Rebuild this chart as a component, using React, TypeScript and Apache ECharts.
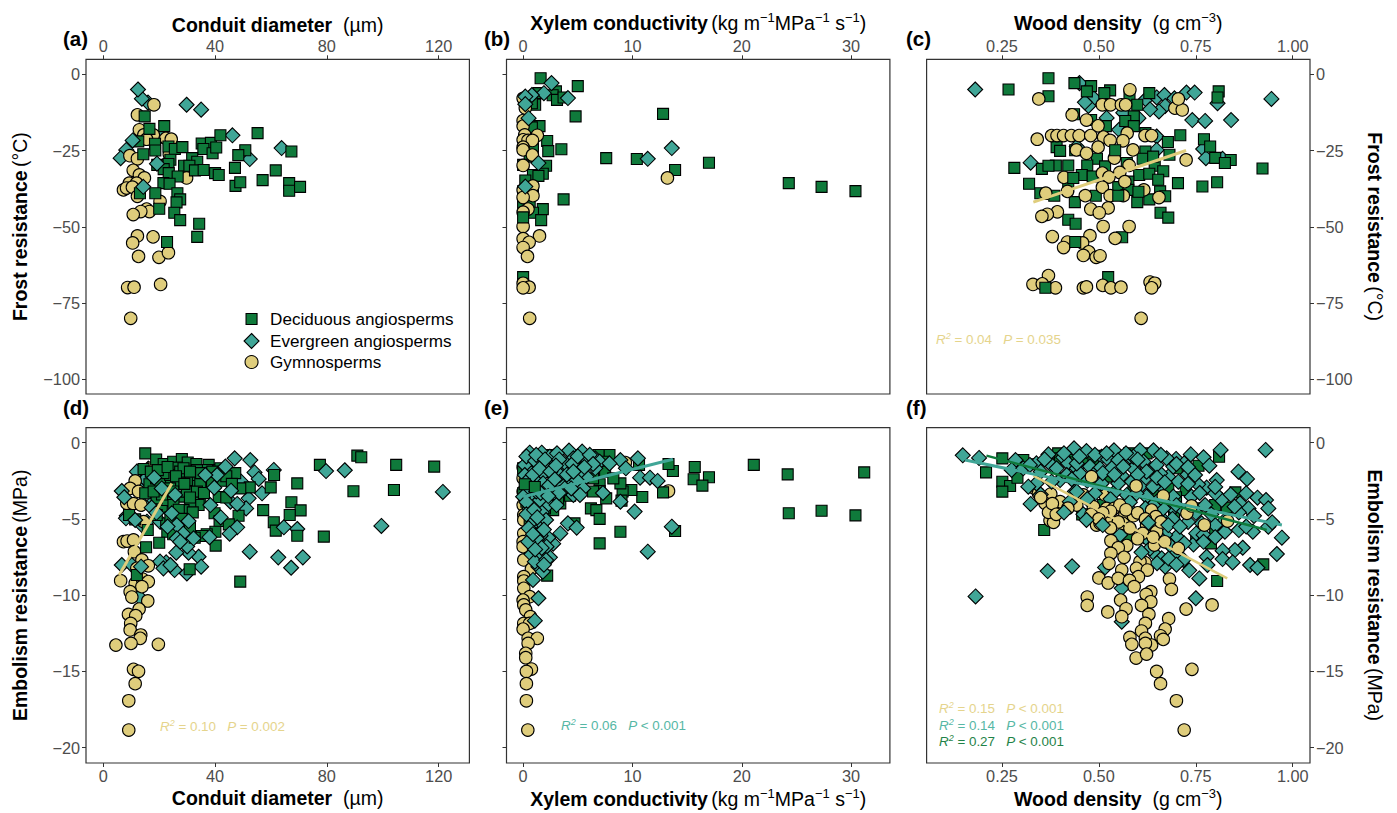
import React, { useEffect, useRef } from "react";
import * as echarts from "echarts";

type P = [number, number];

const xTicksDiameter = [0, 40, 80, 120];
const xTicksConductivity = [0, 10, 20, 30];
const xTicksDensity = [0.25, 0.5, 0.75, 1.0];
const yTicksFrost = [0, -25, -50, -75, -100];
const yTicksEmbolism = [0, -5, -10, -15, -20];

const NAME_D = "Deciduous angiosperms";
const NAME_E = "Evergreen angiosperms";
const NAME_G = "Gymnosperms";

// Panel (a)
const deciduousA: P[] = [[14.8,-13.8],[21.8,-17],[16.5,-17.9],[12.5,-22],[18.5,-22.8],[18.6,-25],[14.3,-26.2],[23.3,-23.7],[25.6,-24.5],[28.3,-23.9],[35.2,-22.7],[38.5,-22.5],[41.9,-20],[55.2,-19.3],[35.8,-24.5],[39.1,-25.9],[40.4,-24],[50.8,-24.9],[48.3,-26.5],[67.3,-25.3],[24,-28],[23.3,-29.4],[19.3,-29.7],[31.8,-27.5],[33.6,-28.7],[28.9,-30],[30.8,-30],[32.8,-31.5],[35.9,-31.4],[21.6,-31.1],[23.4,-32.4],[26.6,-33.5],[40,-32.4],[41.3,-33],[47.1,-30.7],[61.7,-31.5],[57,-34.7],[47.3,-36.6],[49,-35.4],[66.5,-35.7],[66.5,-38.2],[70.4,-36.9],[21.5,-35.7],[23.7,-35.9],[18.6,-39],[13.1,-39],[26.5,-39],[27.5,-41],[26.2,-42],[20,-44.1],[25.4,-45.4],[27.5,-47.8],[34.3,-49],[33.6,-53.3],[22.8,-55]];
const evergreenA: P[] = [[16,-9.3],[13.8,-8],[12.4,-5],[29.8,-10],[35,-11.6],[46.2,-20],[63.8,-24.2],[52.4,-27.8],[8.2,-24.8],[6.2,-27.5],[20.5,-20.4]];
const evergreenATop: P[] = [[10.5,-21.7],[19.2,-29.3],[14.3,-36.9]];
const gymnoA: P[] = [[18.1,-10],[12.2,-13.3],[12.9,-18.2],[14.5,-19.9],[17.9,-19.9],[15.5,-21.3],[22.4,-21],[24.3,-21.3],[23.6,-26.2],[9.5,-26.7],[12.2,-27.7],[10.7,-31.5],[12.9,-33],[14.7,-34],[29.8,-34],[9.3,-35.7],[11.9,-35.7],[7.2,-37.9],[8.3,-37.3],[10.4,-37],[12.2,-40],[20.3,-41.7],[15.5,-44.2],[16.5,-45],[13.4,-45],[10.7,-46],[12.2,-53],[17.8,-53.3],[10.5,-55.3],[12.6,-59.7],[19.9,-60],[23.3,-58.5],[20.5,-68.9],[8.7,-69.9],[11,-69.8],[9.8,-80]];

// Panel (b)
const deciduousB: P[] = [[1.6,-1.3],[5,-3.9],[3,-5.6],[1.4,-6.2],[2.7,-6.9],[3.1,-8.4],[3.7,-7.6],[1.1,-10],[0.8,-9.5],[4.8,-13.8],[12.8,-13],[1.5,-17],[0.8,-17.4],[2.2,-21.9],[2.3,-25.2],[3.5,-24.6],[0.9,-24.2],[0.6,-27],[7.6,-27.5],[10.4,-27.8],[17,-29],[2.1,-30],[0,-29.7],[13.9,-31.4],[0.9,-33],[1.8,-32.6],[1.4,-33.3],[0.2,-34.8],[24.3,-35.7],[27.3,-36.9],[30.4,-38.3],[0.9,-37.9],[0,-38.4],[3.7,-41],[0,-42.2],[0.6,-42.8],[1.8,-44.2],[0.9,-45.4],[1.65,-47.8],[0,-66.5],[0,-69]];
const deciduousBTop: P[] = [[0,-46.9]];
const evergreenB: P[] = [[2.6,-2.9],[4.1,-7.8],[1.9,-6.2],[0.8,-6.8],[0.2,-7.3],[0.2,-9.8],[0.5,-14.4],[13.6,-24.2],[11.4,-27.7],[1.4,-29.1],[0.2,-36.8]];
const gymnoB: P[] = [[0,-7.9],[0.2,-11.1],[0,-15.2],[0,-17],[0.15,-19.9],[1.3,-20],[0,-21.5],[0.45,-21.7],[0.85,-21.7],[0,-23.9],[0,-24.8],[0.85,-26.5],[0,-29.9],[13.2,-34],[0.9,-36.6],[0,-37.9],[0.9,-39.8],[0,-40.4],[0.45,-44.2],[0,-45.2],[0,-49.9],[1.5,-53],[0,-53.9],[0.55,-55.1],[0,-56.8],[0.4,-59.7],[0,-68.5],[0.55,-69.8],[0,-70],[0.6,-80]];

// Panel (c)
const deciduousC: P[] = [[0.267,-5],[0.37,-1.3],[0.37,-7.2],[0.437,-2.9],[0.48,-3.9],[0.469,-5.6],[0.529,-5.3],[0.514,-6.2],[0.579,-6.8],[0.63,-6.2],[0.599,-10],[0.809,-5.6],[0.806,-7.6],[0.48,-15],[0.436,-13.1],[0.59,-13.8],[0.568,-15.3],[0.59,-17],[0.518,-17],[0.62,-19.3],[0.71,-20],[0.678,-22.2],[0.771,-21.3],[0.787,-23.7],[0.391,-23.9],[0.4,-25.1],[0.439,-24.9],[0.62,-25.3],[0.682,-26.4],[0.495,-27.7],[0.613,-27.7],[0.8,-27.4],[0.84,-28.1],[0.825,-29.1],[0.282,-30.7],[0.353,-31],[0.389,-29.9],[0.47,-29.9],[0.644,-30],[0.666,-31.8],[0.922,-30.9],[0.456,-33],[0.484,-33.5],[0.604,-33],[0.63,-32.6],[0.653,-34.6],[0.32,-35.9],[0.704,-35.7],[0.767,-36.8],[0.805,-35.4],[0.349,-39],[0.385,-39.8],[0.421,-36.8],[0.492,-39.8],[0.55,-37],[0.599,-41.9],[0.63,-41],[0.658,-38.4],[0.671,-40],[0.438,-41.9],[0.659,-45.4],[0.679,-47],[0.421,-47.7],[0.44,-49],[0.56,-53.4],[0.524,-66.5],[0.572,-29.1],[0.516,-30.2],[0.576,-35.2],[0.576,-37.9],[0.64,-27]];
const evergreenC: P[] = [[0.181,-5],[0.45,-2.9],[0.487,-7.9],[0.473,-10.4],[0.464,-9.2],[0.563,-12.6],[0.52,-14.3],[0.552,-18.2],[0.621,-8.2],[0.649,-7.6],[0.669,-6.8],[0.695,-7.9],[0.726,-6],[0.747,-6],[0.671,-10.4],[0.655,-12.2],[0.632,-11.5],[0.806,-9.5],[0.945,-8.1],[0.741,-15],[0.774,-15.3],[0.841,-15],[0.649,-20.4],[0.769,-24.5],[0.649,-24.8],[0.776,-27.5],[0.819,-27.7],[0.324,-29],[0.602,-14.4],[0.443,-23.7]];
const gymnoC: P[] = [[0.58,-5.1],[0.345,-8.1],[0.509,-10],[0.53,-10],[0.558,-10],[0.569,-10],[0.696,-11.1],[0.715,-11.7],[0.705,-8.1],[0.431,-13.3],[0.468,-15],[0.498,-16.9],[0.341,-21.3],[0.378,-20.1],[0.392,-20.1],[0.409,-20.1],[0.429,-20.1],[0.449,-20.1],[0.479,-20.1],[0.512,-20.6],[0.529,-21.7],[0.573,-19.3],[0.562,-21.8],[0.619,-20.1],[0.636,-20.1],[0.498,-23.9],[0.442,-24.8],[0.468,-25.9],[0.588,-24.8],[0.54,-27.5],[0.725,-28.1],[0.578,-29.9],[0.509,-32.4],[0.554,-32.2],[0.526,-33.7],[0.41,-33.8],[0.363,-39],[0.419,-38.4],[0.509,-37],[0.616,-37.9],[0.567,-35.2],[0.465,-39.8],[0.529,-39.8],[0.563,-39.8],[0.655,-40.4],[0.524,-43.8],[0.479,-44.2],[0.501,-45.4],[0.393,-45.1],[0.367,-45.9],[0.353,-46.6],[0.511,-49.9],[0.578,-49.9],[0.38,-53.2],[0.477,-52.9],[0.542,-53.8],[0.419,-55],[0.458,-55.3],[0.409,-56.8],[0.474,-58.2],[0.46,-59.4],[0.493,-60],[0.503,-59.5],[0.37,-66],[0.33,-68.9],[0.354,-68.7],[0.388,-70],[0.46,-70],[0.468,-69.7],[0.51,-69.2],[0.531,-70],[0.557,-69.8],[0.632,-68.1],[0.644,-68.5],[0.636,-70],[0.609,-80]];
const deciduousCTop: P[] = [[0.434,-34],[0.55,-39.8],[0.602,-38.5],[0.439,-55],[0.362,-70],[0.542,-24.9],[0.37,-30],[0.421,-29.9]];
const fitGymnoC: P[] = [[0.331,-41.9],[0.725,-25]];

// Panel (d)
const deciduousD: P[] = [[15,-0.7],[18.9,-1.1],[21.6,-1.4],[25,-1.25],[28.1,-1.07],[30.2,-1.3],[33.3,-1.4],[37.7,-1.46],[26.3,-1.64],[14.4,-1.73],[22.7,-2.34],[26.7,-2.56],[16.5,-2.73],[32,-2.82],[35.9,-3],[42.5,-2.5],[47.2,-2],[52.4,-2.93],[59.9,-2.93],[61.1,-2.12],[69.4,-2.67],[77.5,-1.46],[90.9,-0.85],[92.3,-0.96],[104.8,-1.46],[118.4,-1.57],[89.5,-3.19],[104,-3.1],[15,-3.32],[41.3,-3.56],[34.7,-3.87],[34.1,-4.09],[31.1,-4.09],[28.7,-4.42],[32,-4.57],[24.5,-3.83],[20.9,-4.3],[39.8,-4.63],[48.4,-4.79],[57.2,-4.42],[67.3,-3.91],[70.6,-4.44],[66.7,-4.74],[61,-5.22],[61.7,-5.77],[69.4,-6.1],[78.9,-6.16],[41.6,-5.14],[22.5,-5.3],[22.9,-5.84],[15.9,-5.73],[40.1,-5.84],[37,-6],[35.3,-6.12],[32.7,-6.23],[44.9,-5.36],[20,-6.56],[15.3,-6.86],[40.2,-6.75],[30.9,-8.3],[49,-9.11],[11.4,-5.03],[9.2,-4.74],[12,-8.68],[32.3,-2.12],[41.3,-1.79],[27.5,-3.54],[18.9,-2.34],[22.7,-3.76],[29.9,-2.45],[34.7,-2.67],[49,-3],[20.3,-2.56],[23.9,-2.12],[27.5,-1.9],[29.9,-3.21],[33.5,-3.21],[19.1,-3.65],[21.5,-2],[37.1,-1.79],[38.9,-2.56],[23.9,-3],[28.7,-1.68],[33.5,-1.8],[41.9,-1.68],[27.5,-5.4],[25.1,-4.09],[19.1,-4.74],[17,-1.9],[19.5,-1.8],[23,-1.6],[26,-2.2],[31,-1.9],[35,-2],[39,-1.9],[44,-2.2],[29,-2.7],[25,-3.2],[21,-3.4],[36,-3.3],[31,-3.6],[27,-4.4],[24,-4.9],[28,-5],[31,-5.6],[25,-6],[18,-3.2],[44,-3.6],[46,-2.7]];
const evergreenD: P[] = [[54.1,-1.95],[55.6,-2.38],[61,-1.79],[86.4,-1.81],[121.5,-3.23],[56.8,-3.32],[52,-3.65],[49.3,-2.56],[45.5,-3.87],[51.1,-4.31],[99.5,-5.46],[69.4,-5.66],[13.8,-5.4],[8.4,-4.79],[52.4,-7.15],[62.6,-7.52],[67.2,-8.2],[71.4,-7.52],[34.1,-7.48],[35,-8.13],[30.5,-7.21],[26.1,-7.21],[25.5,-8.35],[22.5,-7.85],[20.3,-7.8],[29.9,-8.57],[6.6,-8.02],[10.2,-8.02],[12.9,-10.12],[12,-1.9],[16.1,-1.7],[13,-3],[15.6,-5.18],[20.3,-5.18],[17.9,-3.87],[8.1,-4.96],[21.5,-8.24],[24,-8.02],[15,-2.4],[30,-6.8],[14,-4]];
const evergreenDTop: P[] = [[47,-1.03],[52.6,-1.14],[43.7,-1.57],[79.7,-1.86],[40.7,-2.12],[36.5,-2.12],[39.7,-2.95],[45.7,-3.15],[47.9,-4.02],[64.6,-5.55],[47.9,-5.55],[45.2,-5.97],[30.5,-5.14],[28.5,-5.95],[20.9,-3],[18.2,-2.3],[25.7,-3.43],[6.6,-3.17],[7.5,-3.58],[11.4,-5.07],[13.5,-8.13],[24.5,-4.63],[26.3,-5.4],[17.3,-4.26],[19,-4.6],[23,-5.5],[38.3,-4.09],[42,-4.9],[26.3,-6.27],[27.5,-6.49],[32.3,-6.27],[38,-6.2]];
const gymnoD: P[] = [[16.7,-1.68],[11.4,-2.51],[9.6,-3],[12.6,-3.2],[8.4,-3.98],[10.8,-4],[13.5,-4.09],[14.4,-5.18],[7.2,-6.49],[8.5,-6.45],[10.8,-6.38],[11.1,-7.15],[13.8,-7.69],[16.1,-8.07],[12,-8.24],[6.2,-9.05],[11.4,-9.22],[14,-8.94],[16.1,-9.11],[13.8,-9.44],[9.6,-9.77],[10.2,-10.12],[15.9,-10.38],[12.8,-10.91],[9,-11.26],[11.6,-11.34],[9.8,-11.85],[9.6,-12.28],[13.4,-12.61],[13.2,-12.83],[4.5,-13.27],[9.9,-13.16],[19.7,-13.22],[10.8,-14.86],[12.6,-14.99],[11.4,-15.8],[9.1,-16.92],[9.1,-18.84]];
const fitGymnoD: P[] = [[5.7,-8.68],[24.5,-2.67]];

// Panel (e)
const deciduousE: P[] = [[21.1,-1.46],[24.2,-2.08],[31.2,-1.95],[24.3,-4.63],[27.3,-4.46],[30.4,-4.77],[15.7,-1.6],[17,-2.27],[15.6,-2.4],[16.4,-2.82],[13.7,-1.86],[13.3,-1.4],[12.8,-3.26],[10.9,-3.56],[9.9,-3.1],[9.1,-3.2],[8.9,-2.67],[9,-3.8],[10.6,-1.46],[7.9,-0.81],[6.9,-0.81],[7.3,-1.25],[7.5,-1.9],[7,-2.73],[7,-3.17],[7.6,-3.65],[6.2,-4.31],[6.7,-4.42],[7,-5],[4.7,-5.29],[8.9,-5.84],[7,-6.6],[13.9,-5.79],[2.2,-8.72],[2.6,-0.81],[1.5,-0.92],[4,-1.68],[3.4,-3.98],[2.75,-4.42],[4.3,-3.48],[1.8,-6.93],[1.7,-2.78],[5.2,-2.56],[6.4,-3.2],[2,-1.68],[5.5,-1.14],[0.9,-1.57],[0,-1.68],[0,-3.32],[8.25,-2.34],[4.1,-2.78],[2,-4.31],[3.2,-3.65],[5.5,-1.68],[6.4,-2.34],[0.9,-6.93],[0.3,-3.87],[0.6,-5.4]];
const deciduousETop: P[] = [[0.15,-2.73],[1.07,-2.91]];
const evergreenE: P[] = [[0.6,-0.66],[1.7,-0.66],[2.75,-0.92],[4.2,-0.52],[5.4,-0.59],[5.9,-1.18],[6.6,-1.03],[0.67,-1.14],[2.3,-1.42],[3.7,-1.25],[4.9,-1.57],[2.75,-2.16],[1.7,-2.12],[0.6,-1.9],[4.3,-2.56],[5.8,-2.23],[10.5,-1.03],[8.9,-1.14],[9.4,-1.68],[10.7,-2.3],[11.6,-2.3],[12.3,-2.51],[5.5,-3],[4.6,-3.43],[2.3,-4.04],[1.7,-4.57],[0.6,-4.31],[1.6,-5.4],[2.1,-5.07],[0.67,-5.51],[10.2,-4.52],[13.6,-5.51],[4.1,-5.29],[4.9,-5.57],[3.4,-5.95],[2.75,-6.62],[2.3,-6.23],[1.6,-6.1],[11.4,-7.15],[0.76,-7.32],[1.5,-7.26],[2.45,-7.52],[1.4,-8.13],[1.8,-8.46],[0.9,-9],[1.4,-10.2],[1.07,-11.67],[3.36,-1.68],[7,-1.25],[5.2,-1.9],[1.2,-2.56],[8.9,-3.87],[3.36,-2.67],[0.15,-1.46],[7.3,-3.3],[0.15,-2.12],[0.46,-3],[0.92,-3.54],[2,-3.21],[2.9,-3.32],[3.8,-3],[4.9,-2.45],[6.6,-1.68],[7.9,-1.36],[1.07,-2.45],[1.83,-2.67],[0,-3.54],[2.44,-0.92],[4.6,-1.03],[3.36,-2.12],[4,-1.46],[1.53,-3.76],[3.06,-4.09],[0.92,-5.07],[1.22,-6.27],[0.46,-6.49],[2.14,-6.82],[1.07,-7.8],[5.2,-3.43],[0.3,-0.9],[1.1,-1.2],[1.2,-0.8],[2,-1.1],[3.1,-0.7],[3.3,-1.1],[4.5,-1.4],[5,-0.9],[6.1,-0.8],[6.4,-1.4],[0.4,-2.5],[0.9,-2.1],[1.5,-1.7],[2.5,-1.9],[3,-1.5],[4,-2.1],[4.6,-1.9],[5.6,-1.6],[0.3,-3.9],[1.2,-3.2],[1.6,-3.3],[2.4,-2.8],[2.9,-2.4],[3.3,-3.3],[4.4,-3],[0.3,-4.7],[1,-4.4],[1.3,-4.9],[2.3,-3.5],[0.5,-5.6],[1.9,-5.7],[0.9,-6],[1.7,-6.9],[2.1,-7.7],[1.1,-7],[1.9,-8]];
const gymnoE: P[] = [[9.35,-1.31],[13.3,-3.17],[0,-1.62],[0,-2.34],[0,-3.21],[0,-4.09],[0.06,-4.74],[0.06,-5.07],[0.06,-5.95],[0,-6.49],[0,-6.82],[0.06,-7.69],[0.76,-8.28],[0.06,-8.79],[0.06,-9.07],[0.06,-9.55],[0.6,-10.1],[0,-10.32],[0.06,-10.64],[0.24,-10.97],[0.67,-11.41],[0.06,-11.85],[0.6,-11.85],[0,-12.22],[0.46,-12.83],[1.3,-12.83],[0.46,-13.16],[0.24,-13.81],[0.24,-14.1],[0.76,-14.84],[0.3,-15],[0.3,-15.8],[0.3,-16.92],[0.43,-18.84]];
const fitEvergreenE: P[] = [[0,-3.55],[13.7,-1.09]];

// Panel (f)
const deciduousF: P[] = [[0.251,-1.03],[0.209,-1.95],[0.251,-2.56],[0.271,-2.84],[0.251,-3.21],[0.29,-2.3],[0.305,-1.14],[0.335,-1.42],[0.359,-5.73],[0.395,-0.7],[0.425,-1.14],[0.46,-1.03],[0.509,-0.87],[0.578,-0.7],[0.623,-0.7],[0.757,-1.51],[0.81,-0.92],[0.52,-2.23],[0.462,-2.38],[0.724,-3.1],[0.699,-3.58],[0.852,-3.26],[0.8,-4.09],[0.83,-4.26],[0.694,-4.63],[0.8,-5.84],[0.789,-6.6],[0.751,-6.27],[0.924,-7.98],[0.805,-9.07],[0.457,-4.7],[0.572,-6.05],[0.679,-3],[0.511,-4.09],[0.628,-6.27],[0.701,-1.68],[0.597,-2.12],[0.4,-1.03],[0.486,-1.25],[0.589,-3.21],[0.64,-3.21],[0.752,-4.31],[0.572,-4.09],[0.64,-4.96]];
const evergreenF: P[] = [[0.149,-0.83],[0.191,-1],[0.285,-1.14],[0.182,-10.08],[0.368,-8.42],[0.431,-8.11],[0.814,-0.48],[0.93,-0.48],[0.86,-1.9],[0.882,-2.38],[0.804,-2.45],[0.778,-2.95],[0.756,-2.73],[0.729,-2.08],[0.77,-0.96],[0.785,-1.51],[0.737,-0.77],[0.699,-1.07],[0.675,-1.03],[0.72,-1.36],[0.641,-0.5],[0.606,-0.5],[0.58,-0.92],[0.539,-0.5],[0.507,-0.92],[0.468,-0.55],[0.436,-0.37],[0.408,-0.96],[0.37,-0.77],[0.379,-1.51],[0.477,-1.57],[0.524,-1.09],[0.55,-1.14],[0.589,-1.68],[0.619,-2.34],[0.641,-1.68],[0.679,-2.23],[0.559,-2.16],[0.507,-2.67],[0.49,-3.32],[0.438,-3.21],[0.4,-2.45],[0.339,-2.67],[0.318,-2.89],[0.46,-4.7],[0.572,-3.43],[0.606,-2.89],[0.658,-2.78],[0.705,-2.56],[0.739,-3.54],[0.817,-3.76],[0.8,-3.32],[0.864,-3.98],[0.88,-3.32],[0.909,-3.61],[0.931,-3.76],[0.937,-4.31],[0.886,-4.31],[0.861,-4.57],[0.937,-5.51],[0.947,-5.22],[0.972,-6.23],[0.897,-5.84],[0.861,-5.73],[0.821,-5.18],[0.8,-5.4],[0.765,-5.29],[0.959,-7.3],[0.871,-6.89],[0.851,-7.04],[0.819,-7.08],[0.819,-7.63],[0.845,-7.85],[0.89,-8.02],[0.909,-8.2],[0.778,-7.48],[0.78,-8.02],[0.733,-8.37],[0.759,-8.9],[0.75,-10.2],[0.559,-9.55],[0.559,-11.74],[0.647,-7.37],[0.671,-8.13],[0.692,-7.37],[0.718,-7.69],[0.744,-6.67],[0.701,-6.16],[0.671,-6.05],[0.751,-5.95],[0.589,-4.63],[0.658,-4.85],[0.692,-4.31],[0.666,-4.31],[0.623,-3.54],[0.516,-8.18],[0.555,-6.05],[0.443,-3.21],[0.275,-1.79],[0.305,-1.68],[0.339,-1.36],[0.421,-1.36],[0.443,-1.68],[0.503,-1.68],[0.615,-1.25],[0.658,-2.01],[0.597,-3.32],[0.542,-3.21],[0.322,-1.46],[0.391,-1.68],[0.417,-2.12],[0.451,-2.01],[0.486,-2.12],[0.533,-1.68],[0.563,-1.57],[0.623,-1.9],[0.692,-1.57],[0.748,-2.12],[0.55,-2.67],[0.585,-2.56],[0.64,-2.89],[0.692,-3.54],[0.774,-4.09],[0.64,-4.09],[0.623,-6.27],[0.658,-6.27],[0.683,-6.71],[0.662,-7.58],[0.632,-6.93],[0.77,-6.05],[0.825,-5.84],[0.425,-3.87],[0.378,-2.56],[0.443,-1.36],[0.589,-0.92],[0.649,-1.46],[0.36,-1.1],[0.41,-0.7],[0.45,-0.9],[0.49,-0.8],[0.52,-0.7],[0.57,-0.7],[0.6,-1.1],[0.66,-0.8],[0.7,-1.4],[0.73,-1.6],[0.35,-1.9],[0.43,-2.4],[0.47,-2.5],[0.51,-2],[0.54,-2.1],[0.6,-2.1],[0.65,-2.3],[0.67,-2.6],[0.73,-2.7],[0.76,-3.3],[0.8,-2.9],[0.84,-3.4],[0.85,-4.2],[0.9,-4.8],[0.47,-3.7],[0.53,-3.7],[0.58,-3.9],[0.62,-4.3],[0.66,-3.6],[0.7,-4.1],[0.72,-4.5],[0.75,-4.6],[0.79,-4.7],[0.69,-5],[0.73,-5.2],[0.77,-6.5],[0.72,-6.6],[0.68,-7.6],[0.7,-8],[0.65,-7.9],[0.88,-5.5],[0.8,-6.2],[0.35,-3.4]];
const gymnoF: P[] = [[0.331,-2.95],[0.344,-3.32],[0.376,-3.37],[0.361,-3.98],[0.391,-4.42],[0.374,-5.11],[0.383,-5.22],[0.37,-4.57],[0.46,-3.43],[0.486,-4.2],[0.516,-3.43],[0.494,-5.4],[0.4,-3.87],[0.503,-5.29],[0.443,-4.09],[0.623,-5.4]];
const gymnoFTop: P[] = [[0.481,-2.23],[0.596,-2.84],[0.666,-3.5],[0.52,-4.31],[0.539,-4.31],[0.554,-4.09],[0.567,-4.74],[0.589,-4.79],[0.727,-4.63],[0.739,-4.15],[0.772,-5.4],[0.832,-5.14],[0.562,-5.29],[0.636,-4.42],[0.647,-4.85],[0.533,-4.96],[0.613,-5.95],[0.649,-5.84],[0.643,-6.71],[0.705,-6.93],[0.53,-4.5],[0.57,-4.4],[0.6,-4.6],[0.62,-5],[0.66,-5.2],[0.51,-4.6],[0.55,-5.2],[0.58,-5.6],[0.6,-6.3],[0.64,-6.2],[0.67,-6.5],[0.35,-3.6],[0.38,-4],[0.39,-4.7],[0.42,-4.3],[0.48,-4.7],[0.5,-5],[0.53,-5.6],[0.531,-6.43],[0.572,-6.75],[0.55,-6.89],[0.531,-7.26],[0.565,-7.52],[0.526,-7.91],[0.559,-8.35],[0.619,-7.87],[0.606,-7.8],[0.597,-8.24],[0.625,-8.35],[0.602,-8.79],[0.5,-8.87],[0.524,-9.2],[0.55,-8.9],[0.579,-9.03],[0.591,-9.44],[0.682,-8.94],[0.687,-9.62],[0.634,-9.77],[0.622,-9.95],[0.634,-10.43],[0.47,-10.12],[0.47,-10.67],[0.556,-10.32],[0.57,-10.89],[0.61,-10.67],[0.523,-11.1],[0.559,-11.41],[0.629,-11.26],[0.68,-11.54],[0.62,-11.85],[0.725,-10.91],[0.792,-10.64],[0.671,-12.22],[0.61,-12.35],[0.659,-12.66],[0.666,-12.9],[0.58,-12.77],[0.62,-12.83],[0.636,-13.27],[0.585,-13.22],[0.62,-13.16],[0.596,-14.12],[0.623,-13.86],[0.649,-15],[0.74,-14.86],[0.659,-15.8],[0.7,-16.92],[0.72,-18.84]];
const evergreenFTop: P[] = [[0.324,-4.02],[0.41,-4.57],[0.51,-5.4],[0.468,-5.07],[0.61,-7.19],[0.628,-5.25],[0.679,-5.4],[0.709,-5.51]];
const fitGymnoF: P[] = [[0.331,-2.16],[0.831,-8.9]];
const fitEvergreenF: P[] = [[0.155,-1.14],[0.972,-5.4]];
const fitDeciduousF: P[] = [[0.21,-0.85],[0.933,-5.73]];

const GREEN = "#0f7a3b";
const TEAL = "#40a697";
const GOLD = "#dfcd7c";
const GOLD_TEXT = "#e5d48c";
const TEAL_TEXT = "#56b7a5";
const GREEN_TEXT = "#1f8348";
const FONT = "'Liberation Sans', Arial, sans-serif";
const TICK = "#4d4d4d";
const AXIS = "#333333";

type Kind = "D" | "E" | "G";
const STYLE: Record<Kind, { name: string; symbol: string; size: number; color: string }> = {
  D: { name: NAME_D, symbol: "rect", size: 11, color: GREEN },
  E: { name: NAME_E, symbol: "diamond", size: 15, color: TEAL },
  G: { name: NAME_G, symbol: "circle", size: 12.5, color: GOLD },
};

const titleRich = {
  b: { fontFamily: FONT, fontWeight: "bold", fontSize: 19.5, color: "#000" },
  n: { fontFamily: FONT, fontSize: 19.5, color: "#000" },
  s: { fontFamily: FONT, fontSize: 13, color: "#000", verticalAlign: "top", lineHeight: 24 },
  g: { width: 11 },
};

const diameterName = "{b|Conduit diameter}{g|}{n|(µm)}";
const conductivityName = "{b|Xylem conductivity} {n|(kg m}{s|−1}{n|MPa}{s|−1}{n| s}{s|−1}{n|)}";
const densityName = "{b|Wood density}{g|}{n|(g cm}{s|−3}{n|)}";
const frostName = "{b|Frost resistance} {n|(°C)}";
const embolismName = "{b|Embolism resistance} {n|(MPa)}";

const gridW = 383.4;
const lefts = [86, 506.5, 926.6];
const tops = [59.3, 427.7];
const heights = [334.7, 335.3];

type Panel = {
  col: number; row: number;
  xMin: number; xMax: number; xTicks: number[]; xName: string; xDigits: number;
  yMin: number; yMax: number; yTicks: number[]; yName: string;
  layers: [Kind, P[]][];
  fits: [string, P[], number][];
};

const panels: Panel[] = [
  { col: 0, row: 0, xMin: -6.2, xMax: 131, xTicks: xTicksDiameter, xName: diameterName, xDigits: 0, yMin: -104.8, yMax: 4.9, yTicks: yTicksFrost, yName: frostName,
    layers: [["E", evergreenA], ["G", gymnoA], ["D", deciduousA], ["E", evergreenATop]], fits: [] },
  { col: 1, row: 0, xMin: -1.52, xMax: 33.55, xTicks: xTicksConductivity, xName: conductivityName, xDigits: 0, yMin: -104.8, yMax: 4.9, yTicks: yTicksFrost, yName: "",
    layers: [["D", deciduousB], ["G", gymnoB], ["D", deciduousBTop], ["E", evergreenB]], fits: [] },
  { col: 2, row: 0, xMin: 0.0557, xMax: 1.0445, xTicks: xTicksDensity, xName: densityName, xDigits: 2, yMin: -104.8, yMax: 4.9, yTicks: yTicksFrost, yName: frostName,
    layers: [["E", evergreenC], ["D", deciduousC], ["G", gymnoC], ["D", deciduousCTop]], fits: [["Gymnosperms fit", fitGymnoC, 3]] },
  { col: 0, row: 1, xMin: -6.2, xMax: 131, xTicks: xTicksDiameter, xName: diameterName, xDigits: 0, yMin: -21, yMax: 0.98, yTicks: yTicksEmbolism, yName: embolismName,
    layers: [["E", evergreenD], ["G", gymnoD], ["D", deciduousD], ["E", evergreenDTop]], fits: [["Gymnosperms fit", fitGymnoD, 3]] },
  { col: 1, row: 1, xMin: -1.52, xMax: 33.55, xTicks: xTicksConductivity, xName: conductivityName, xDigits: 0, yMin: -21, yMax: 0.98, yTicks: yTicksEmbolism, yName: "",
    layers: [["G", gymnoE], ["D", deciduousE], ["E", evergreenE], ["D", deciduousETop]], fits: [["Evergreen fit", fitEvergreenE, 3]] },
  { col: 2, row: 1, xMin: 0.0557, xMax: 1.0445, xTicks: xTicksDensity, xName: densityName, xDigits: 2, yMin: -21, yMax: 0.98, yTicks: yTicksEmbolism, yName: embolismName,
    layers: [["D", deciduousF], ["G", gymnoF], ["E", evergreenF], ["G", gymnoFTop], ["E", evergreenFTop]], fits: [["Gymnosperms fit", fitGymnoF, 2.5], ["Deciduous fit", fitDeciduousF, 2.5], ["Evergreen fit", fitEvergreenF, 3]] },
];

const FIT_COLOR: Record<string, string> = {
  "Gymnosperms fit": GOLD,
  "Evergreen fit": TEAL,
  "Deciduous fit": GREEN,
};

function statRich(color: string) {
  return {
    i: { fontFamily: FONT, fontStyle: "italic", fontSize: 13.4, fill: color, color },
    n: { fontFamily: FONT, fontSize: 13.4, fill: color, color },
    s: { fontFamily: FONT, fontStyle: "italic", fontSize: 9, fill: color, color, verticalAlign: "top", lineHeight: 15 },
  };
}

function stat(x: number, y: number, r2: string, p: string, color: string) {
  return {
    type: "text", x, y, z: 50,
    style: {
      text: `{i|R}{s|2}{n| = ${r2}   }{i|P}{n| ${p}}`,
      rich: statRich(color), verticalAlign: "middle", align: "left",
    },
  };
}

function tag(x: number, y: number, t: string) {
  return {
    type: "text", x, y,
    style: { text: t, fontFamily: FONT, fontWeight: "bold", fontSize: 20.5, fill: "#000", verticalAlign: "middle", align: "left" },
  };
}

const minus = (v: number) => String(v).replace("-", "−");

function buildOption() {
  const grid: any[] = [], xAxis: any[] = [], yAxis: any[] = [], series: any[] = [];
  panels.forEach((p, i) => {
    grid.push({
      left: lefts[p.col], top: tops[p.row], width: gridW, height: heights[p.row],
      outerBoundsMode: "none",
      show: true, borderColor: AXIS, borderWidth: 1.2, backgroundColor: "#fff",
    });
    const bottomGap = p.col === 0 ? 25 : 24;
    xAxis.push({
      type: "value", gridIndex: i, min: p.xMin, max: p.xMax,
      position: p.row === 0 ? "top" : "bottom",
      splitLine: { show: false }, axisLine: { show: false, onZero: false },
      axisTick: { show: true, length: 4, customValues: p.xTicks, lineStyle: { color: AXIS, width: 1 } },
      axisLabel: { show: true, customValues: p.xTicks, color: TICK, fontFamily: FONT, fontSize: 16.3, margin: 5, formatter: (v: number) => v.toFixed(p.xDigits) },
      name: p.xName, nameLocation: "middle", nameGap: p.row === 0 ? 24 : bottomGap, nameMoveOverlap: false,
      nameTextStyle: { rich: titleRich },
    });
    const right = p.col === 2;
    yAxis.push({
      type: "value", gridIndex: i, min: p.yMin, max: p.yMax,
      position: right ? "right" : "left",
      splitLine: { show: false }, axisLine: { show: false, onZero: false },
      axisTick: { show: true, length: 4, customValues: p.yTicks, lineStyle: { color: AXIS, width: 1 } },
      axisLabel: { show: p.col !== 1, customValues: p.yTicks, color: TICK, fontFamily: FONT, fontSize: 16.3, margin: 6, formatter: minus },
      name: p.yName, nameLocation: "middle", nameRotate: right ? -90 : 90, nameGap: right ? 55 : 56, nameMoveOverlap: false,
      nameTextStyle: { rich: titleRich },
    });
    p.layers.forEach(([k, data], li) => {
      const st = STYLE[k];
      series.push({
        type: "scatter", name: st.name, xAxisIndex: i, yAxisIndex: i, data,
        symbol: st.symbol, symbolSize: st.size, z: 2 + li,
        itemStyle: { color: st.color, borderColor: "#000", borderWidth: 1.1, opacity: 1 },
        emphasis: { disabled: true },
      });
    });
    p.fits.forEach(([name, data, w]) => {
      series.push({
        type: "line", name, xAxisIndex: i, yAxisIndex: i, data, symbol: "none", showSymbol: false, z: 20,
        lineStyle: { color: FIT_COLOR[name], width: w },
        emphasis: { disabled: true },
      });
    });
  });

  const legendRow = (name: string, icon: string, size: number, cy: number, pad: number) => ({
    show: true, orient: "vertical", left: 251 - size / 2, top: cy - 10, itemWidth: size, itemHeight: size,
    icon, selectedMode: false, data: [name], padding: 0,
    textStyle: { color: "#000", fontFamily: FONT, fontSize: 17.1, padding: [0, 0, 0, pad], lineHeight: 20, height: 20 },
    itemStyle: { borderColor: "#000", borderWidth: 1.1 },
  });

  return {
    animation: false,
    backgroundColor: "#fff",
    textStyle: { fontFamily: FONT },
    grid, xAxis, yAxis, series,
    legend: [
      legendRow(NAME_D, "rect", 11, 319, 8),
      legendRow(NAME_E, "diamond", 15, 341, 6),
      legendRow(NAME_G, "circle", 13, 362, 7),
    ],
    graphic: [
      tag(63, 38, "(a)"), tag(484, 38, "(b)"), tag(906, 38, "(c)"),
      tag(63, 407, "(d)"), tag(484, 407, "(e)"), tag(906, 407, "(f)"),
      stat(936, 339, "0.04", "= 0.035", GOLD_TEXT),
      stat(160, 726, "0.10", "= 0.002", GOLD_TEXT),
      stat(561, 725, "0.06", "< 0.001", TEAL_TEXT),
      stat(939, 708, "0.15", "< 0.001", GOLD_TEXT),
      stat(939, 725, "0.14", "< 0.001", TEAL_TEXT),
      stat(939, 741, "0.27", "< 0.001", GREEN_TEXT),
    ],
  };
}

export default function App() {
  const ref = useRef<HTMLDivElement>(null);
  useEffect(() => {
    document.body.style.margin = "0";
    const chart = echarts.init(ref.current!, undefined, { renderer: "svg" });
    chart.setOption(buildOption() as any);
    return () => chart.dispose();
  }, []);
  return <div ref={ref} style={{ position: "absolute", left: 0, top: 0, width: 1397, height: 813 }} />;
}
